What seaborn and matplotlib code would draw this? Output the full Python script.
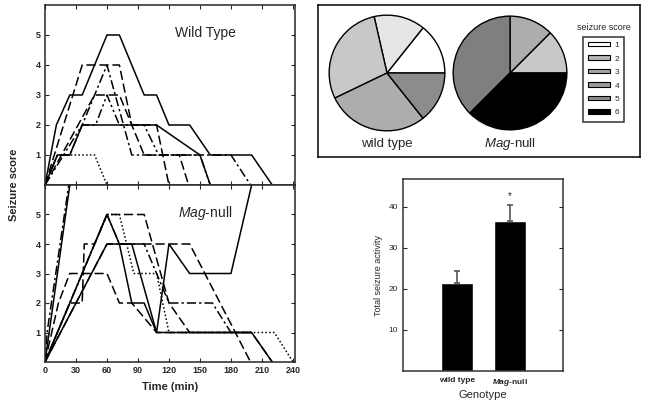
import matplotlib
matplotlib.use('Agg')
import matplotlib.pyplot as plt
import seaborn as sns
from matplotlib.patches import Patch

sns.set_style('ticks')
plt.rcParams['font.family'] = ['Liberation Sans', 'DejaVu Sans']
plt.rcParams['mathtext.fontset'] = 'custom'
plt.rcParams['mathtext.rm'] = 'Liberation Sans'
plt.rcParams['mathtext.it'] = 'Liberation Sans:italic'
plt.rcParams['mathtext.bf'] = 'Liberation Sans:bold'
plt.rcParams['mathtext.bfit'] = 'Liberation Sans:italic:bold'

W, H = 645, 404

# seizure traces, (time in min, score) per animal
wt_traces = [
    ('solid', [0, 11, 24, 36, 60, 72, 96, 108, 120, 140, 160, 200, 220], [0, 2, 3, 3, 5, 5, 3, 3, 2, 2, 1, 1, 0]),
    ('dashdot', [0, 12, 24, 60, 84, 180, 199], [0, 1, 1, 4, 1, 1, 0]),
    ('dash', [0, 36, 72, 84, 108, 120], [0, 4, 4, 2, 2, 0]),
    ('dash', [0, 48, 72, 96, 130, 139], [0, 3, 3, 1, 1, 0]),
    ('dashdotdot', [0, 36, 49, 60, 72, 96, 110, 150, 160], [0, 2, 2, 3, 2, 2, 1, 1, 0]),
    ('solid', [0, 12, 24, 36, 82, 108, 150, 160], [0, 1, 1, 2, 2, 2, 1, 0]),
    ('dotted', [0, 12, 48, 60], [0, 1, 1, 0]),
]
mag_traces = [
    ('solid', [0, 24], [0, 6]),
    ('dashdot', [0, 2, 23], [0, 1, 6]),
    ('solid', [0, 60, 72, 84, 96, 108, 120, 140, 180, 200], [0, 5, 4, 2, 2, 1, 4, 3, 3, 6]),
    ('solid', [0, 60, 84, 108, 200, 220], [0, 4, 4, 1, 1, 0]),
    ('dash', [0, 13, 24, 60, 72, 84, 108, 200, 220], [0, 2, 3, 3, 2, 2, 1, 1, 0]),
    ('dash', [0, 24, 36, 38, 48, 60, 96, 120, 140, 200], [0, 2, 2, 4, 4, 5, 5, 2, 1, 1]),
    ('dash', [0, 60, 140, 199], [0, 4, 4, 0]),
    ('dashdot', [0, 36, 48, 60, 72, 96, 120, 162, 180, 200], [0, 3, 4, 5, 4, 4, 2, 2, 1, 1]),
    ('dotted', [0, 24, 48, 60, 72, 86, 108, 120, 222, 240], [0, 2, 4, 5, 5, 3, 3, 1, 1, 0]),
]

styles = {
    'solid': '-',
    'dash': (0, (6, 2.5)),
    'dashdot': (0, (6, 2, 1.5, 2)),
    'dashdotdot': (0, (6, 2, 1.5, 2, 1.5, 2)),
    'dotted': (0, (1, 1.5)),
}

# pie data: number of animals per maximum seizure score
score_levels = [1, 2, 3, 4, 5, 6]
wt_counts = [1, 1, 2, 2, 1, 0]
mag_counts = [0, 0, 1, 1, 3, 3]
wt_pie_colors = ['#ffffff', '#e6e6e6', '#c8c8c8', '#adadad', '#8c8c8c', '#000000']
mag_pie_colors = ['#ffffff', '#e6e6e6', '#c8c8c8', '#adadad', '#7f7f7f', '#000000']
legend_colors = ['#ffffff', '#b4b4b4', '#a6a6a6', '#9a9a9a', '#8c8c8c', '#000000']

# bar data
genotypes = ['wild type', 'Mag-null']
totals = [21.5, 36.6]
sems = [2.9, 3.9]


def rect(l, t, r, b):
    return [l / W, 1 - b / H, (r - l) / W, (b - t) / H]


fig = plt.figure(figsize=(W / 100, H / 100), dpi=100)

ax_wt = fig.add_axes(rect(45, 5, 295, 185))
ax_mag = fig.add_axes(rect(45, 185, 295, 362))

for ax, traces in [(ax_wt, wt_traces), (ax_mag, mag_traces)]:
    for st, t, s in traces:
        sns.lineplot(x=t, y=s, ax=ax, color='black', lw=1.1, linestyle=styles[st],
                     sort=False, estimator=None)
    ax.set_xlim(0, 242)
    ax.set_ylim(0, 6)
    ax.set_yticks([1, 2, 3, 4, 5])
    ax.set_xticks(range(0, 241, 30))
    ax.tick_params(direction='in', top=True, right=True, length=3, width=0.8,
                   labelsize=6.5, pad=3)
    for lab in ax.get_yticklabels():
        lab.set_fontweight('bold')
    for sp in ax.spines.values():
        sp.set_linewidth(1.1)

ax_wt.tick_params(labelbottom=False)
for lab in ax_mag.get_xticklabels():
    lab.set_fontweight('bold')
ax_mag.set_xlabel('Time (min)', fontsize=8, fontweight='bold', labelpad=5)
fig.text(14 / W, 1 - 185 / H, 'Seizure score', rotation=90, fontsize=8,
         fontweight='bold', ha='center', va='center')

ax_wt.text(155, 5.05, 'Wild Type', fontsize=10, ha='center', va='center')
ax_mag.text(155, 5.05, r'$\mathit{Mag}$-null', fontsize=10, ha='center', va='center')

# pie panel
frame = fig.add_axes(rect(318, 5, 640, 157))
frame.set_xticks([])
frame.set_yticks([])
for sp in frame.spines.values():
    sp.set_linewidth(1.1)
    sp.set_color('black')

ax_p1 = fig.add_axes(rect(328, 14, 446, 132))
ax_p2 = fig.add_axes(rect(452, 15, 568, 131))
for ax, counts, cols in [(ax_p1, wt_counts, wt_pie_colors), (ax_p2, mag_counts, mag_pie_colors)]:
    vals = [c for c in counts if c > 0]
    cc = [cols[i] for i, c in enumerate(counts) if c > 0]
    ax.pie(vals, colors=cc, startangle=0, counterclock=True,
           wedgeprops=dict(edgecolor='black', linewidth=1))
    ax.set_aspect('equal')
    ax.set_xlim(-1.02, 1.02)
    ax.set_ylim(-1.02, 1.02)
    ax.axis('off')

fig.text(387 / W, 1 - 144 / H, 'wild type', fontsize=9.5, ha='center', va='center')
fig.text(510 / W, 1 - 144 / H, r'$\mathit{Mag}$-null', fontsize=9.5, ha='center', va='center')

fig.text(604 / W, 1 - 28 / H, 'seizure score', fontsize=6.5, ha='center', va='center')
handles = [Patch(facecolor=c, edgecolor='black', linewidth=0.8, label=str(s))
           for s, c in zip(score_levels, legend_colors)]
leg = fig.legend(handles=handles, loc='upper left', bbox_to_anchor=(583 / W, 1 - 37 / H),
                 fontsize=6, frameon=True, fancybox=False, edgecolor='black',
                 handlelength=2.6, handleheight=0.45, labelspacing=0.75,
                 borderpad=0.6, handletextpad=0.6, borderaxespad=0)
leg.get_frame().set_linewidth(1.1)

# bar chart
ax_b = fig.add_axes(rect(403, 179, 563, 371))
sns.barplot(x=genotypes, y=totals, ax=ax_b, color='black', width=0.6,
            saturation=1, errorbar=None)
ax_b.errorbar([0, 1], totals, yerr=[[0, 0], sems], fmt='none', ecolor='#555555',
              elinewidth=1.2, capsize=2.5, capthick=1.2)
ax_b.text(1, totals[1] + sems[1] + 2.2, '*', ha='center', va='center', fontsize=7)
ax_b.set_xlim(-1.02, 2.0)
ax_b.set_ylim(0, 46.8)
ax_b.set_yticks([10, 20, 30, 40])
ax_b.tick_params(axis='y', direction='in', right=True, length=3, labelsize=6)
ax_b.tick_params(axis='x', length=0, labelsize=6, pad=4)
ax_b.set_xticks([0, 1])
ax_b.set_xticklabels(['wild type', r'$\mathbfit{Mag}$-null'])
for lab in ax_b.get_xticklabels():
    lab.set_fontweight('bold')
ax_b.set_ylabel('Total seizure activity', fontsize=6.5, labelpad=4)
ax_b.set_xlabel('Genotype', fontsize=8, labelpad=2)
for sp in ax_b.spines.values():
    sp.set_visible(True)
    sp.set_linewidth(1.1)
    sp.set_color('#333333')

fig.savefig('out.png', dpi=100)
